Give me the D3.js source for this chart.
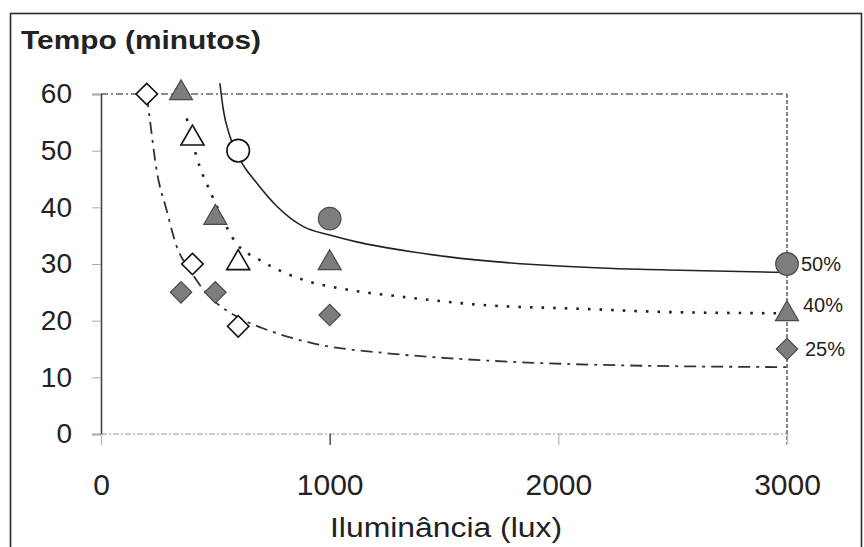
<!DOCTYPE html>
<html>
<head>
<meta charset="utf-8">
<script src="https://cdn.jsdelivr.net/npm/d3@7/dist/d3.min.js"></script>
<style>
  html, body { margin: 0; padding: 0; background: #fff; }
  svg { display: block; }
  text { font-family: "Liberation Sans", Arial, sans-serif; fill: #222; }
</style>
</head>
<body>
<svg id="chart" width="864" height="547"></svg>
<script>
// ---------- data ----------
const xTicks = [0, 1000, 2000, 3000];
const yTicks = [0, 10, 20, 30, 40, 50, 60];
const seriesNames = ["50%", "40%", "25%"];

// measured points (open markers = white, filled markers = gray)
const open50 = [[600, 50]];
const filled50 = [[1000, 38], [3000, 30]];
const open40 = [[400, 52], [600, 30]];
const filled40 = [[350, 60], [500, 38], [1000, 30], [3000, 21]];
const open25 = [[200, 60], [400, 30], [600, 19]];
const filled25 = [[350, 25], [500, 25], [1000, 21], [3000, 15]];

// fitted curves
const curve50 = [[520, 61.9], [535, 57.2], [564, 52.5], [608, 48.4], [681, 44.3], [769, 40.2], [885, 36.6], [1000, 35.1], [1118, 33.9], [1351, 32.2], [1512, 31.3], [1890, 29.9], [2240, 29.2], [2532, 28.9], [3000, 28.5]];
const curve40 = [[375, 55.7], [418, 48.9], [491, 41.6], [593, 33.6], [695, 30.7], [885, 27.2], [1089, 25.4], [1321, 24.2], [1657, 22.8], [2094, 22.1], [2501, 21.5], [3000, 21.3]];
const curve25 = [[200, 59.8], [214, 55.4], [243, 46.6], [287, 39.5], [331, 33.1], [389, 28.9], [462, 24.8], [506, 23.1], [608, 20.4], [725, 18.4], [928, 16.0], [1264, 14.2], [1512, 13.4], [2182, 12.2], [3000, 11.8]];

// end labels placed at the last filled point of each series
const endLabelValues = [30, 21, 15];

// ---------- layout ----------
(function () {
const svg = d3.select("#chart");
const pL = 101, pR = 787, pT = 94, pB = 434;
const x = d3.scaleLinear().domain([0, 3000]).range([pL, pR]);
const y = d3.scaleLinear().domain([0, 60]).range([pB, pT]);

// outer frame
svg.append("rect").attr("x", 10.5).attr("y", 13.5).attr("width", 851).attr("height", 545)
  .attr("fill", "none").attr("stroke", "#2a2a2a").attr("stroke-width", 1.6);

// title
svg.append("text").attr("x", 21).attr("y", 49)
  .attr("font-size", 25).attr("font-weight", "bold")
  .attr("textLength", 240).attr("lengthAdjust", "spacingAndGlyphs")
  .text("Tempo (minutos)");

// plot frame
svg.append("line").attr("x1", pL).attr("x2", pR).attr("y1", y(60)).attr("y2", y(60))
  .attr("stroke", "#666").attr("stroke-width", 1.3).attr("stroke-dasharray", "7,3,2,3");
svg.append("line").attr("x1", pL).attr("x2", pR).attr("y1", y(0)).attr("y2", y(0))
  .attr("stroke", "#999").attr("stroke-width", 1.2).attr("stroke-dasharray", "6,2,2,2");
svg.append("line").attr("x1", x(3000)).attr("x2", x(3000)).attr("y1", y(60)).attr("y2", y(0) + 10)
  .attr("stroke", "#444").attr("stroke-width", 1.3).attr("stroke-dasharray", "4,2");

// y axis
const yAxis = d3.axisLeft(y).tickValues(yTicks).tickSize(9).tickPadding(20).tickFormat(d3.format("d"));
const gy = svg.append("g").attr("transform", `translate(${pL},0)`).call(yAxis);
gy.select(".domain").attr("stroke", "#444").attr("stroke-width", 1.6);
gy.selectAll(".tick line").attr("stroke", "#aaa");
gy.selectAll(".tick text").attr("font-size", 28).attr("fill", "#222")
  .attr("font-family", "Liberation Sans, Arial, sans-serif");

// x axis
const xAxis = d3.axisBottom(x).tickValues(xTicks).tickSize(11).tickPadding(29).tickFormat(d3.format("d"));
const gx = svg.append("g").attr("transform", `translate(0,${pB})`).call(xAxis);
gx.select(".domain").remove();
gx.selectAll(".tick line").attr("stroke", (d) => d === 1000 ? "#333" : "#bbb").attr("stroke-width", 1.3);
gx.selectAll(".tick text").attr("font-size", 30).attr("fill", "#222")
  .attr("font-family", "Liberation Sans, Arial, sans-serif");

// x title
svg.append("text").attr("x", 446).attr("y", 537).attr("text-anchor", "middle")
  .attr("font-size", 27).attr("textLength", 232).attr("lengthAdjust", "spacingAndGlyphs")
  .text("Iluminância (lux)");

// curves
const line = d3.line().x(d => x(d[0])).y(d => y(d[1])).curve(d3.curveMonotoneX);
svg.append("path").datum(curve50).attr("d", line).attr("fill", "none")
  .attr("stroke", "#222").attr("stroke-width", 1.6);
svg.append("path").datum(curve40).attr("d", line).attr("fill", "none")
  .attr("stroke", "#222").attr("stroke-width", 2.6).attr("stroke-dasharray", "2.6,9");
svg.append("path").datum(curve25).attr("d", line).attr("fill", "none")
  .attr("stroke", "#333").attr("stroke-width", 1.8).attr("stroke-dasharray", "12,6,3,6");

// markers
const grayFill = "#7d7d7d", grayStroke = "#4a4a4a";
function markers(data, type, filled) {
  const sz = type === d3.symbolCircle ? 400 : (type === d3.symbolTriangle ? 230 : 230);
  const sym = d3.symbol().type(type).size(sz);
  svg.append("g").selectAll("path").data(data).join("path")
    .attr("transform", d => `translate(${x(d[0])},${y(d[1]) + (type === d3.symbolTriangle ? -1 : 0)})` + (type === d3.symbolSquare ? " rotate(45)" : ""))
    .attr("d", sym)
    .attr("fill", filled ? grayFill : "#fff")
    .attr("stroke", filled ? grayStroke : "#111")
    .attr("stroke-width", filled ? 1.2 : 1.6);
}
markers(open50, d3.symbolCircle, false);
markers(filled50, d3.symbolCircle, true);
markers(open40, d3.symbolTriangle, false);
markers(filled40, d3.symbolTriangle, true);
markers(open25, d3.symbolSquare, false);
markers(filled25, d3.symbolSquare, true);

// end labels
svg.append("g").selectAll("text").data(seriesNames).join("text")
  .attr("x", (d, i) => 801 + i * 2)
  .attr("y", (d, i) => y(endLabelValues[i]) + [7, -3, 7][i])
  .attr("font-size", 20).attr("fill", "#333")
  .text(d => d);
})();
</script>
</body>
</html>
